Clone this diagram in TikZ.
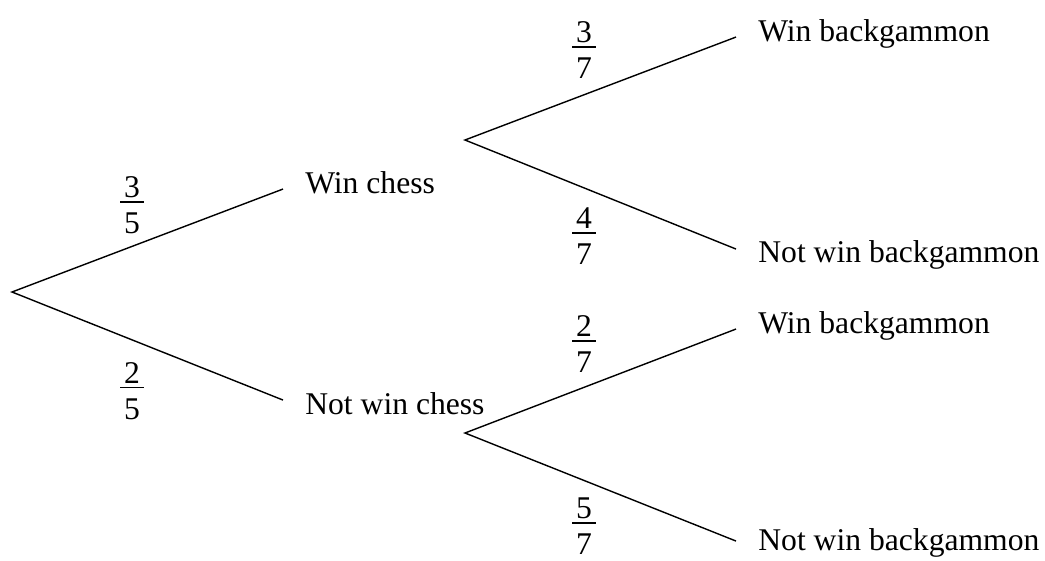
\documentclass[tikz,border=0pt]{standalone}
\usepackage{fontspec}
\setmainfont{Liberation Serif}
\usepackage{tikz}
\newcommand{\frc}[2]{\vbox{\offinterlineskip\hbox to 0.74em{\hss#1\hss}\kern0.1em\hrule height 0.06em\kern0.32em\hbox to 0.74em{\hss#2\hss}}}
\begin{document}
\begin{tikzpicture}[x=0.02cm,y=-0.02cm,
    every node/.style={font=\fontsize{18}{21}\selectfont},
    outcome/.style={anchor=base west,inner xsep=0.44cm,inner ysep=0pt,text height=0.7em,text depth=0.25em},
    prob/.style={inner sep=0pt},
    branch/.style={line width=0.8pt}]
      \useasboundingbox (0,0) rectangle (1045,561);
      \coordinate (root) at (12,292);
      \coordinate (wcfork) at (465,140);
      \coordinate (nwcfork) at (465,433);
      \node[outcome] (wc) at (283,193) {Win chess};
      \node[outcome] (nwc) at (283,414) {Not win chess};
      \node[outcome] (wcwb) at (736,41) {Win backgammon};
      \node[outcome] (wcnwb) at (736,262) {Not win backgammon};
      \node[outcome] (nwcwb) at (736,333) {Win backgammon};
      \node[outcome] (nwcnwb) at (736,550) {Not win backgammon};
      \draw[branch] (wc.west)--(root)--([yshift=0.2cm]nwc.west);
      \draw[branch] (wcwb.west)--(wcfork)--([yshift=0.18cm]wcnwb.west);
      \draw[branch] (nwcwb.west)--(nwcfork)--([yshift=0.1cm]nwcnwb.west);
      \node[prob] (pwc) at (132,205) {\frc{3}{5}};
      \node[prob] (pnwc) at (132,391) {\frc{2}{5}};
      \node[prob] (pwcwb) at (584,50) {\frc{3}{7}};
      \node[prob] (pwcnwb) at (584,236) {\frc{4}{7}};
      \node[prob] (pnwcwb) at (584,344) {\frc{2}{7}};
      \node[prob] (pnwcnwb) at (584,526) {\frc{5}{7}};
    \end{tikzpicture}
\end{document}
